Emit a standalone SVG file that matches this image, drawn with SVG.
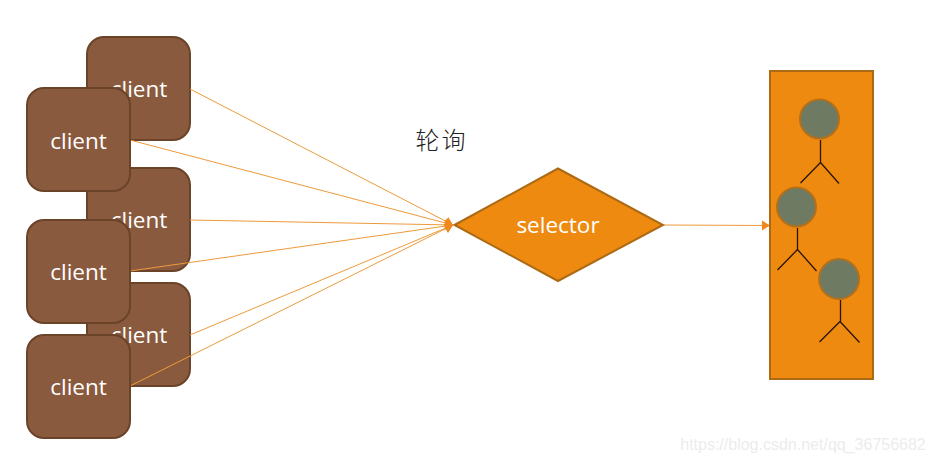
<svg xmlns="http://www.w3.org/2000/svg" width="934" height="463" viewBox="0 0 934 463">
<style>
.c{fill:#8a5a3e;stroke:#6a4329;stroke-width:2}
.t{font-family:"Open Sans","Liberation Sans",sans-serif;font-size:22.500px;fill:#fff;text-anchor:middle}
.l{stroke:#ee9a3c;stroke-width:1;fill:none}
.h{fill:#6f7a62;stroke:#b3701c;stroke-width:2}
.s{stroke:#2a1408;stroke-width:1.300;fill:none}
</style>
<defs>
<marker id="a" markerUnits="userSpaceOnUse" markerWidth="9" markerHeight="12" refX="8" refY="6" orient="auto"><path d="M0 1L8 6L0 11Z" fill="#ee8a1d"/></marker>
</defs>
<rect width="934" height="463" fill="#fff"/>
<g id="client-back-1"><rect class="c" x="87" y="37" width="103" height="103" rx="17"/><text class="t" x="139" y="97">client</text></g>
<g id="client-back-2"><rect class="c" x="87" y="168" width="103" height="103" rx="17"/><text class="t" x="139" y="228">client</text></g>
<g id="client-back-3"><rect class="c" x="87" y="283" width="103" height="103" rx="17"/><text class="t" x="139" y="343">client</text></g>
<g id="connectors">
<path class="l" d="M190 89L453 225" marker-end="url(#a)"/>
<path class="l" d="M130 140L453 225" marker-end="url(#a)"/>
<path class="l" d="M190 220L453 225" marker-end="url(#a)"/>
<path class="l" d="M130 271L453 225" marker-end="url(#a)"/>
<path class="l" d="M190 335L453 225" marker-end="url(#a)"/>
<path class="l" d="M130 386L453 225" marker-end="url(#a)"/>
<path class="l" d="M664 225L770 225.500" marker-end="url(#a)"/>
</g>
<g id="client-front-1"><rect class="c" x="27" y="88" width="103" height="103" rx="17"/><text class="t" x="78.500" y="149">client</text></g>
<g id="client-front-2"><rect class="c" x="27" y="220" width="103" height="103" rx="17"/><text class="t" x="78.500" y="280">client</text></g>
<g id="client-front-3"><rect class="c" x="27" y="335" width="103" height="103" rx="17"/><text class="t" x="78.500" y="395">client</text></g>
<g id="selector"><path d="M454.500 225L558 168.500L663 225L558 281Z" fill="#ee8a10" stroke="#ad6a14" stroke-width="2"/><text class="t" x="558" y="233">selector</text></g>
<text id="polling" x="441.500" y="149" font-family="'Noto Sans CJK SC',sans-serif" font-size="24" fill="#222" text-anchor="middle" font-weight="300" letter-spacing="2">轮询</text>
<g id="pool"><rect x="770" y="71" width="103" height="308" fill="#ee8a10" stroke="#ad6a14" stroke-width="2"/></g>
<g id="person-1"><circle class="h" cx="819.500" cy="119" r="19.500"/><path class="s" d="M820.500 140V162.500M800.500 183L820.500 162.500L839 183.500"/></g>
<g id="person-2"><circle class="h" cx="796.500" cy="207" r="19.500"/><path class="s" d="M797.500 228V249.500M777.500 270L797.500 249.500L816.500 271"/></g>
<g id="person-3"><circle class="h" cx="839" cy="279" r="20"/><path class="s" d="M840.500 300V321.500M819.500 342L840 321.500L859.500 342.500"/></g>
<text id="watermark" x="803" y="450" font-family="'Liberation Sans',sans-serif" font-size="16" fill="#ececec" text-anchor="middle">https://blog.csdn.net/qq_36756682</text>
</svg>
